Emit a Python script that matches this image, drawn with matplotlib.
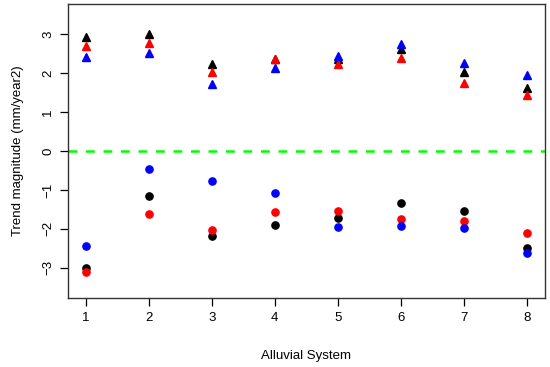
import matplotlib
matplotlib.use("Agg")
import matplotlib.pyplot as plt

systems = [1, 2, 3, 4, 5, 6, 7, 8]
# positive trends (triangles)
tri_black = [2.92, 3.00, 2.23, 2.37, 2.37, 2.62, 2.04, 1.62]
tri_red = [2.70, 2.79, 2.04, 2.37, 2.23, 2.39, 1.74, 1.44]
tri_blue = [2.42, 2.53, 1.73, 2.13, 2.44, 2.74, 2.27, 1.96]
# negative trends (circles)
cir_black = [-3.01, -1.15, -2.19, -1.91, -1.71, -1.34, -1.54, -2.49]
cir_red = [-3.11, -1.61, -2.04, -1.56, -1.54, -1.74, -1.79, -2.11]
cir_blue = [-2.45, -0.46, -0.76, -1.09, -1.96, -1.93, -1.97, -2.62]

plt.rcParams['font.family'] = ['Liberation Sans', 'DejaVu Sans']

fig = plt.figure(figsize=(5.5, 3.67), dpi=100)
ax = fig.add_axes([0.1236, 0.188, 0.867, 0.801])

tms = 6.3
cms = 5.2
for ys, c in [(tri_black, 'black'), (tri_red, '#FF0000'), (tri_blue, '#0000FF')]:
    ax.plot(systems, ys, linestyle='none', marker='^', ms=tms, color=c, mec=c, zorder=3)
for ys, c in [(cir_black, 'black'), (cir_red, '#FF0000'), (cir_blue, '#0000FF')]:
    ax.plot(systems, ys, linestyle='none', marker='o', ms=cms, color=c, mec=c, zorder=3)

ax.axhline(0, color='#00FF00', lw=1.8, linestyle=(0, (3.5, 3.5)), zorder=2)

ax.set_xlim(0.72, 8.28)
ax.set_ylim(-3.78, 3.78)
ax.set_xticks(systems)
ax.set_yticks([-3, -2, -1, 0, 1, 2, 3])
ax.set_yticklabels(['\u22123', '\u22122', '\u22121', '0', '1', '2', '3'], rotation=90, va='center')
ax.tick_params(direction='out', length=6, width=0.9, labelsize=9.5, colors='black', pad=4)
for s in ax.spines.values():
    s.set_linewidth(1.0)
    s.set_color('#333333')

ax.set_xlabel('Alluvial System', fontsize=9.5, labelpad=19)
ax.set_ylabel('Trend magnitude (mm/year2)', fontsize=9.5, labelpad=13)

fig.savefig('out.png', dpi=100)
